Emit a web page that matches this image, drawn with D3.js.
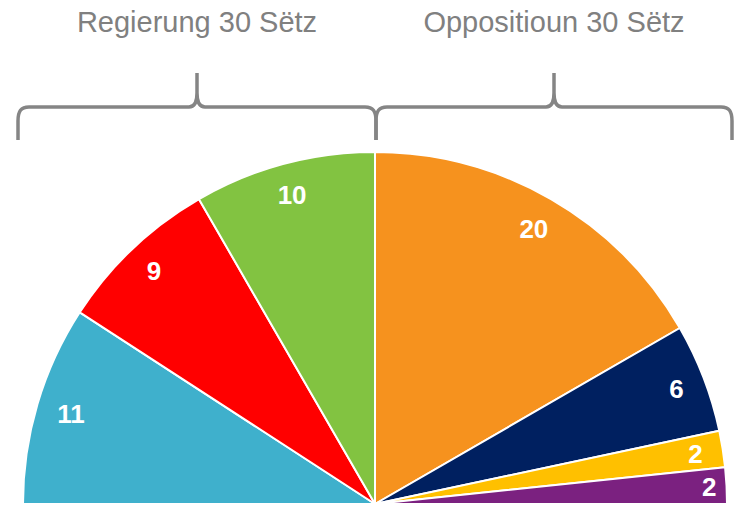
<!DOCTYPE html>
<html>
<head>
<meta charset="utf-8">
<script src="https://cdn.jsdelivr.net/npm/d3@7"></script>
<style>
	body { margin: 0; background: #fff; }
	svg { display: block; font-family: "Liberation Sans", Arial, sans-serif; }
</style>
</head>
<body>
<div id="chart"></div>
<script>
// seats per party, left (government) to right (opposition)
const parties	= ['DP', 'LSAP', 'déi gréng', 'CSV', 'ADR', 'Piraten', 'déi Lénk'];
const seats		= [11, 9, 10, 20, 6, 2, 2];
const colors	= ['#3fb0cc', '#ff0000', '#82c341', '#f6921e', '#002060', '#ffc000', '#7b2180'];
const groups	= ['Regierung 30 Sëtz', 'Oppositioun 30 Sëtz'];
const groupSize	= [3, 4];	// number of parties in each group

const canvasWidth	= 738;
const canvasHeight	= 506;
const cx			= 375;
const cy			= 504;
const radius		= 352;

let svg = d3.select('#chart').append('svg')
	.attr('width', canvasWidth)
	.attr('height', canvasHeight);

let pie = d3.pie()
	.sort(null)
	.value((d) => d.seats)
	.startAngle(-Math.PI / 2)
	.endAngle(Math.PI / 2);

let arc = d3.arc().innerRadius(0).outerRadius(radius);

let data = parties.map((p, i) => ({ name: p, seats: seats[i], color: colors[i] }));
let arcs = pie(data);

let g = svg.append('g').attr('transform', 'translate(' + cx + ',' + cy + ')');

g.selectAll('.slice')
	.data(arcs).enter().append('path')
		.attr('class', 'slice')
		.attr('d', arc)
		.attr('fill', (d) => d.data.color)
		.attr('stroke', '#fff')
		.attr('stroke-width', 2)
		.attr('stroke-linejoin', 'round');

// labels placed "inside end": box corner kept just inside the rim
let fontSize = 26;
let labels = g.selectAll('.label')
	.data(arcs).enter().append('text')
		.attr('class', 'label')
		.attr('text-anchor', 'middle')
		.attr('fill', '#fff')
		.attr('font-weight', 'bold')
		.attr('font-size', fontSize)
		.text((d) => d.data.seats);

labels.each(function (d) {
	let a = (d.startAngle + d.endAngle) / 2;
	let w = this.getBBox().width / 2;
	let h = fontSize * 0.716 / 2;
	let r = radius - 19 - (w * Math.abs(Math.sin(a)) + h * Math.abs(Math.cos(a)));
	// thin slices lying flat near the base: push out until the box meets the rim
	if (Math.abs(Math.cos(a)) < 0.08) r = radius - 10 - w;
	let x = Math.sin(a) * r;
	let y = -Math.cos(a) * r;
	d3.select(this).attr('x', x).attr('y', y + h);
});

// group braces and titles
let braceY	= 107;
let braceB	= 140;
let braceT	= 73;
let ext		= radius + 5;

let angleScale = d3.scaleLinear().domain([0, d3.sum(seats)]).range([-Math.PI / 2, Math.PI / 2]);

let start = 0;
let braces = groups.map((name, i) => {
	let a0 = angleScale(d3.sum(seats.slice(0, start)));
	start += groupSize[i];
	let a1 = angleScale(d3.sum(seats.slice(0, start)));
	let x0 = cx + (a0 <= -Math.PI / 2 + 1e-6 ? -ext : Math.sin(a0) * radius + 1);
	let x1 = cx + (a1 >= Math.PI / 2 - 1e-6 ? ext : Math.sin(a1) * radius + 1);
	return { name: name, x0: x0, x1: x1 };
});

function bracePath(x0, x1) {
	let xm = (x0 + x1) / 2;
	let y = braceY;
	return 'M' + x0 + ',' + braceB +
		'L' + x0 + ',' + (y + 14) +
		'C' + x0 + ',' + (y + 4) + ' ' + (x0 + 3) + ',' + y + ' ' + (x0 + 11) + ',' + y +
		'L' + (xm - 8) + ',' + y +
		'C' + (xm - 2) + ',' + y + ' ' + xm + ',' + (y - 5) + ' ' + xm + ',' + (y - 14) +
		'L' + xm + ',' + braceT +
		'M' + xm + ',' + (y - 14) +
		'C' + xm + ',' + (y - 5) + ' ' + (xm + 2) + ',' + y + ' ' + (xm + 8) + ',' + y +
		'L' + (x1 - 11) + ',' + y +
		'C' + (x1 - 3) + ',' + y + ' ' + x1 + ',' + (y + 4) + ' ' + x1 + ',' + (y + 14) +
		'L' + x1 + ',' + braceB;
}

svg.selectAll('.brace')
	.data(braces).enter().append('path')
		.attr('class', 'brace')
		.attr('d', (d) => bracePath(d.x0, d.x1))
		.attr('fill', 'none')
		.attr('stroke', '#858585')
		.attr('stroke-width', 3.5);

svg.selectAll('.group-title')
	.data(braces).enter().append('text')
		.attr('class', 'group-title')
		.attr('x', (d) => (d.x0 + d.x1) / 2)
		.attr('y', 32)
		.attr('text-anchor', 'middle')
		.attr('fill', '#808080')
		.attr('font-size', 29)
		.text((d) => d.name);
</script>
</body>
</html>
